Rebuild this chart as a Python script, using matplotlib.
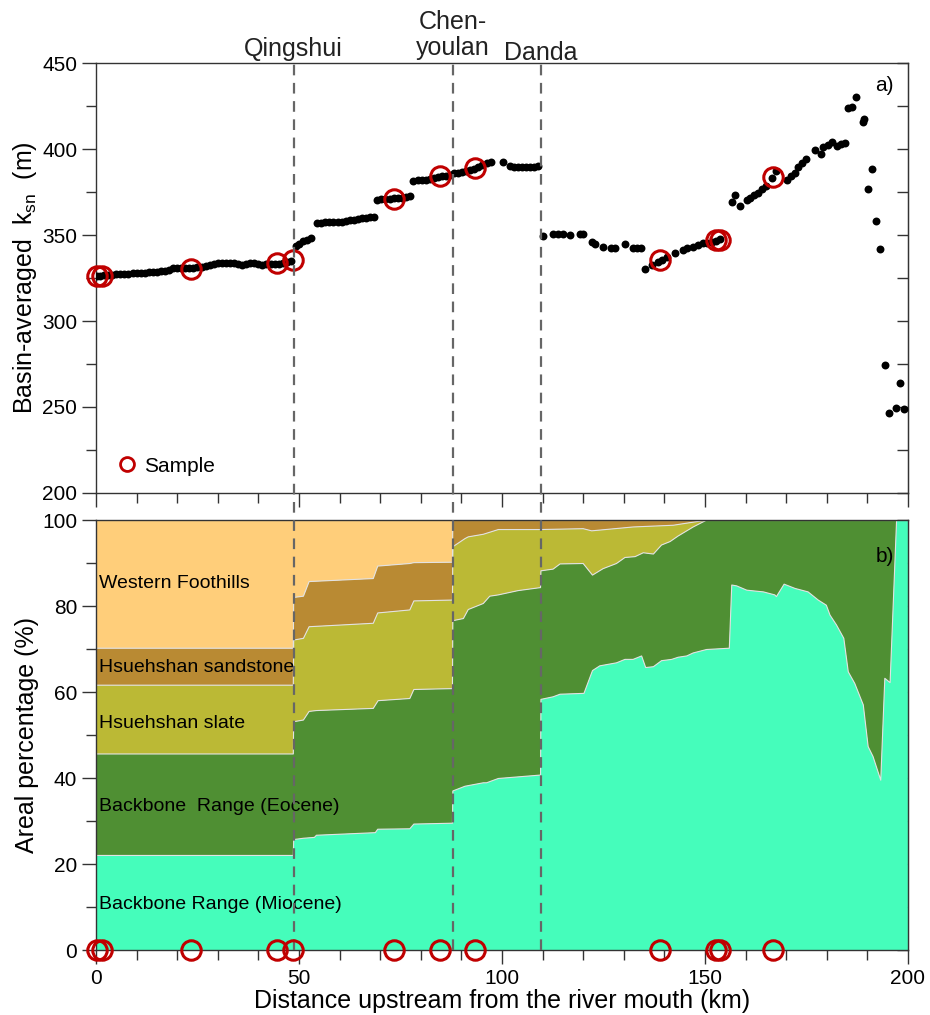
import matplotlib
matplotlib.use("Agg")
import matplotlib.pyplot as plt
import matplotlib.transforms as mtransforms
from matplotlib.lines import Line2D
from matplotlib.ticker import MultipleLocator

plt.rcParams['font.family'] = ['Liberation Sans', 'DejaVu Sans']
plt.rcParams['mathtext.fontset'] = 'custom'
plt.rcParams['mathtext.rm'] = 'Liberation Sans'
plt.rcParams['mathtext.it'] = 'Liberation Sans'

# basin-averaged ksn along the river (km, m)
ksn_km = [0.3, 1, 2, 3, 4, 5, 6, 7, 8, 9, 10, 11, 12, 13, 14, 15, 16, 17, 18, 19, 20, 21, 22, 23, 24,
          25, 26, 27, 28, 29, 30, 31, 32, 33, 34, 35, 36, 37, 38, 39, 40, 41, 42, 43, 44, 45, 46, 47, 48,
          49.3, 50, 51, 52, 53,
          54.5, 55.5, 56.5, 57.5, 58.5, 59.5, 60.5, 61.5, 62.5, 63.5, 64.5, 65.5, 66.5, 67.5, 68.5,
          69.3, 70.3, 71.3, 72.3, 73.3, 74.3, 75.3, 76.3, 77.3,
          78.2, 79.2, 80.2, 81.2, 82.2, 83.2, 84.2, 85.2, 86.2, 87.2,
          88.2, 89.2, 90.2, 91.2, 92.2, 93.2, 94.2, 95.2, 96.2, 97.3, 100.3,
          102, 103, 104, 105, 106, 107, 108, 108.8,
          110.2, 112.6, 113.8, 115, 116.7, 119.2, 120, 122.2, 122.8, 124.9, 126.8, 127.8, 130.3, 132.3, 133.3, 134.3,
          135.2, 137, 138.5, 139.5, 140.6, 142.6, 144.6, 145.5, 147, 148.2, 149.5, 150.5, 151.7, 152.7, 153.7,
          156.6, 157.4, 158.6, 160.3, 161.2, 162, 163, 164, 165, 166.4, 167.6, 170.1, 171.3, 172.2, 172.9,
          174, 175, 177.1, 178.5, 179.1, 180.4, 181.2, 182.4, 183.5, 184.5,
          185.3, 186.1, 187.1, 189, 189.2, 190.2, 191.2, 192.1, 193.1, 194.3, 195.4, 197, 198, 199]
ksn_val = [326.2, 326.4, 326.5, 326.7, 327, 327.1, 327.3, 327.4, 327.6, 327.8, 328, 328.1, 328.2, 328.4, 328.5,
           328.7, 328.9, 329.2, 329.8, 330.6, 330.6, 330.7, 330.7, 330.8, 331, 331.2, 331.4, 331.7, 332.5,
           333.4, 333.6, 333.7, 333.8, 333.9, 333.8, 333.2, 332.8, 333.3, 333.8, 333.6, 333, 332.6, 332.9,
           333.1, 333.4, 333.2, 333.5, 334.2, 334.9,
           343.5, 345, 346.3, 347.2, 348,
           357, 357.2, 357.3, 357.3, 357.3, 357.5, 357.7, 358, 358.5, 359, 359.3, 359.8, 360, 360.3, 360.3,
           370.5, 371, 371, 371.2, 371.3, 371.5, 371.8, 372.2, 372.5,
           381.5, 381.8, 382, 382.2, 382.7, 383.3, 383.8, 384.2, 384.5, 385,
           385.8, 386.3, 386.8, 387.2, 387.7, 388.5, 389.5, 390.5, 391.6, 392.6, 392.5,
           390, 389.8, 389.7, 389.7, 389.6, 389.7, 389.8, 390,
           349.4, 350.6, 350.3, 350.4, 349.9, 350.3, 350.3, 346.1, 344.9, 343.3, 342.4, 342.4, 344.6, 342.4, 342.3, 342.3,
           330.2, 332.5, 334.5, 335.5, 337.4, 339.5, 341.3, 342.2, 343.2, 344.2, 345.2, 345.6, 346.1, 346.8, 347.5,
           369.4, 373.3, 367, 370.3, 371.5, 373, 374.5, 376.5, 378.5, 383, 387.4, 382, 384.5, 386.2, 389.7,
           392, 394, 399.4, 397.1, 401.4, 402.3, 404.3, 401.7, 403, 403.3,
           423.7, 424.6, 430, 415.9, 417.2, 376.7, 388.2, 358.3, 341.9, 274.4, 246.3, 249.6, 263.8, 248.8]

# sample locations
sample_km = [0.2, 1.4, 23.3, 44.7, 48.6, 73.4, 84.7, 93.3, 138.9, 152.8, 153.8, 166.8]
sample_ksn = [326, 326, 330.2, 333.5, 335.5, 371, 384.5, 389.2, 335.2, 347.1, 347.1, 384]

# tributary junctions
junction_km = [48.7, 87.9, 109.6]
junction_names = ['Qingshui', 'Chen-\nyoulan', 'Danda']

# cumulative upper boundary (%) of each lithology, as (km, %) pairs
miocene_top = [(0, 22), (48.6, 22), (48.7, 25.7), (51.1, 26), (53.8, 26.2), (54.3, 26.7), (68.8, 27.3),
               (69.4, 28.1), (77.3, 28.2), (78.3, 29.3), (87.8, 29.5), (87.9, 37), (90.9, 38.1), (95.4, 38.9),
               (96.2, 38.9), (99.1, 39.9), (109.5, 40.7), (109.6, 58.3), (112.6, 58.9), (114.3, 59.5),
               (120.2, 59.7), (122.3, 65), (124.1, 66.1), (128.2, 66.8), (130.3, 67.6), (132.3, 67.6),
               (134.4, 68.4), (135.4, 65.7), (137.3, 65.9), (139.3, 67.3), (141.8, 67.6), (143.4, 68.1),
               (145.5, 68.4), (147.1, 69.1), (150.4, 69.9), (156, 70.2), (156.6, 84.9), (157.8, 84.7),
               (160.3, 83.7), (164.4, 83.3), (167.2, 82.6), (167.6, 82.2), (169.5, 85.1), (172.2, 84.1),
               (175.4, 83.3), (177.9, 81.4), (179.9, 80.2), (180.8, 77.9), (182.4, 75.6), (184.2, 72.5),
               (185.3, 64.7), (186.9, 62), (189, 57), (190.2, 47.3), (191.4, 45), (193.3, 39.5),
               (194.3, 63.2), (195.6, 62.2), (197.2, 100), (200, 100)]
eocene_top = [(0, 45.6), (48.6, 45.6), (48.7, 53.1), (51.1, 53.5), (52.5, 55.5), (54.3, 55.7), (68.3, 56.2),
              (69.5, 58), (77.3, 58.5), (78.3, 60.6), (87.8, 60.8), (87.9, 76.6), (90.5, 77.1), (91.7, 79.2),
              (95.4, 80.6), (97, 82.3), (99.1, 82.6), (104, 83.6), (109.5, 84.3), (109.6, 88.2), (112.6, 88.6),
              (114.3, 89.8), (120, 89.9), (122.3, 87.2), (124.9, 88.7), (128.2, 89.9), (130.3, 91.3),
              (132.8, 91.5), (134.8, 92.4), (137.3, 92.1), (139.3, 94.2), (141.4, 95), (143.4, 96.3),
              (147.1, 98.4), (150.4, 100), (200, 100)]
slate_top = [(0, 61.6), (48.6, 61.6), (48.7, 72.1), (51.1, 72.5), (52.5, 75.2), (68.3, 76), (69.4, 78.4),
             (77.3, 79.1), (78.3, 81.2), (87.8, 81.4), (87.9, 93.8), (90.9, 95.7), (91.7, 96.1), (95.4, 96.7),
             (99.1, 97.8), (109.4, 97.8), (120, 98), (122.1, 97.5), (132.3, 98.4), (142.2, 98.8),
             (150.4, 100), (200, 100)]
sandstone_top = [(0, 70.2), (48.6, 70.2), (48.7, 82), (51.1, 82.3), (52.5, 85.7), (68.3, 86.4), (69.4, 89.3),
                 (77.3, 89.9), (78.3, 90.1), (87.8, 90.2), (87.9, 100), (200, 100)]

layer_names = ['Backbone Range (Miocene)', 'Backbone  Range (Eocene)', 'Hsuehshan slate',
               'Hsuehshan sandstone', 'Western Foothills']
layer_colors = ['#45fdbb', '#4f8f33', '#bbb935', '#b98a33', '#ffce7a']
layer_label_y = [10.5, 33.5, 52.8, 65.6, 85.3]

fig = plt.figure(figsize=(9.3, 10.15), dpi=100)
ax1 = fig.add_axes([0.1032, 0.5143, 0.8731, 0.4236])
ax2 = fig.add_axes([0.1032, 0.0640, 0.8731, 0.4236])

red = '#c00000'
spine_col = '#333333'

# ---- top panel: ksn
ax1.plot(ksn_km, ksn_val, 'o', color='black', ms=5.7, mew=0, zorder=3)
ax1.plot(sample_km, sample_ksn, 'o', mfc='none', mec=red, ms=14, mew=2.2, zorder=4, clip_on=False)
ax1.set_xlim(0, 200)
ax1.set_ylim(200, 450)
ax1.set_ylabel(r'Basin-averaged  k$_{\rm sn}$  (m)', fontsize=18, labelpad=2)
ax1.text(194.3, 437.2, 'a)', fontsize=15, ha='center', va='center')
h = Line2D([], [], marker='o', ls='none', mfc='none', mec=red, mew=2, ms=10)
ax1.legend([h], ['Sample'], loc='lower left', bbox_to_anchor=(0.0, -0.003), frameon=False,
           fontsize=15, handletextpad=0.2, handlelength=1.2)

# ---- bottom panel: lithology
tops = [miocene_top, eocene_top, slate_top, sandstone_top]
lower_x, lower_y = [200, 0], [0, 0]
for i, name in enumerate(layer_names):
    if i < 4:
        ux, uy = zip(*tops[i])
        ux, uy = list(ux), list(uy)
    else:
        ux, uy = [0, 200], [100, 100]
    ax2.fill(ux + lower_x, uy + lower_y, color=layer_colors[i], lw=0, zorder=1)
    ax2.plot(ux, uy, color='#e2e2e2', lw=0.8, zorder=2)
    lower_x, lower_y = ux[::-1], uy[::-1]
    ax2.text(0.8, layer_label_y[i], name, fontsize=14, va='center', zorder=3)

ax2.plot(sample_km, [0] * len(sample_km), 'o', mfc='none', mec=red, ms=14, mew=2.2, zorder=6, clip_on=False)
ax2.set_xlim(0, 200)
ax2.set_ylim(0, 100)
ax2.set_xlabel('Distance upstream from the river mouth (km)', fontsize=18, labelpad=1)
ax2.set_ylabel('Areal percentage (%)', fontsize=18, labelpad=2)
ax2.text(194.3, 91.5, 'b)', fontsize=15, ha='center', va='center', zorder=3)

# ---- ticks and spines
for ax in (ax1, ax2):
    ax.xaxis.set_major_locator(MultipleLocator(50))
    ax.xaxis.set_minor_locator(MultipleLocator(10))
    ax.tick_params(which='both', direction='out', colors=spine_col, labelcolor='black', labelsize=15, width=1)
    ax.tick_params(which='major', length=10)
    ax.tick_params(which='minor', length=7)
    for s in ax.spines.values():
        s.set_color(spine_col)
        s.set_linewidth(1)
ax1.tick_params(axis='x', labelbottom=False)
ax1.yaxis.set_major_locator(MultipleLocator(50))
ax1.yaxis.set_minor_locator(MultipleLocator(25))
ax2.yaxis.set_major_locator(MultipleLocator(20))
ax2.yaxis.set_minor_locator(MultipleLocator(10))

for ax, step in ((ax1, 25), (ax2, 10)):
    sec = ax.secondary_yaxis('right')
    sec.yaxis.set_major_locator(MultipleLocator(step))
    sec.tick_params(direction='in', length=8, width=1, colors=spine_col, labelright=False)
    sec.spines['right'].set_color(spine_col)

# ---- junction lines across both panels
tr = mtransforms.blended_transform_factory(ax2.transData, ax2.transAxes)
tr_top = mtransforms.blended_transform_factory(ax1.transData, ax1.transAxes)
for xv in junction_km:
    ax2.plot([xv, xv], [0, 2.06], transform=tr, ls=(0, (4.8, 3.4)), color='#666666', lw=1.6,
             clip_on=False, zorder=5)
dy = [0.017, 0.019, 0.008]
for xv, name, d in zip(junction_km, junction_names, dy):
    ax1.text(xv, 1 + d, name, transform=tr_top, ha='center', va='baseline', fontsize=18,
             linespacing=1.1, color='#222222')

fig.savefig('out.png', dpi=100)
